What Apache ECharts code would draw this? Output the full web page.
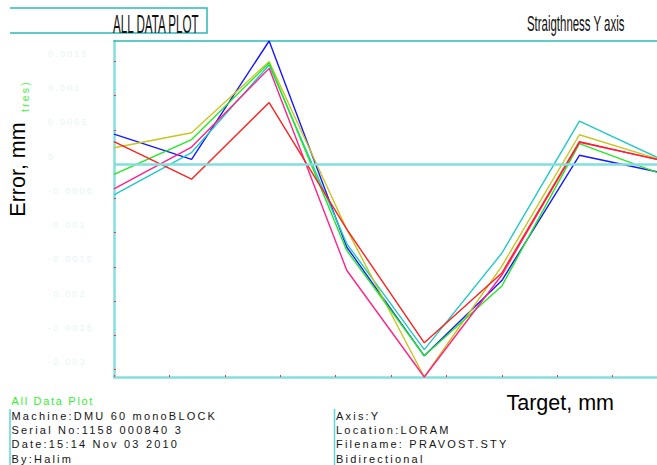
<!DOCTYPE html>
<html>
<head>
<meta charset="utf-8">
<script src="https://cdn.jsdelivr.net/npm/echarts@6/dist/echarts.min.js"></script>
<style>
  html, body { margin: 0; padding: 0; background: #ffffff; }
  #chart { width: 657px; height: 465px; }
  /* tracked lettering for the report block and the pale axis labels */
  #chart text[style*="Arimo"], #chart text[font-family*="Arimo"] { letter-spacing: 2.2px; }
  #chart text[style*="Tinos"], #chart text[font-family*="Tinos"] { letter-spacing: 1.7px; }
</style>
</head>
<body>
<div id="chart"></div>
<script>
// Target positions along the Y axis travel (mm)
const targets = [0, 70, 140, 210, 280, 350, 420, 490];

// Straightness error per run, in micrometres
const errBlue   = [0.44, 0.07, 1.80, -1.21, -2.80, -1.70, 0.13, -0.11];
const errCyan   = [-0.45, 0.17, 1.45, -1.16, -2.71, -1.30, 0.63, 0.10];
const errYellow = [0.24, 0.46, 1.50, -0.95, -3.11, -1.49, 0.43, 0.08];
const errGreen  = [-0.15, 0.36, 1.48, -1.26, -2.80, -1.78, 0.30, -0.12];
const errPink   = [-0.36, 0.25, 1.40, -1.55, -3.11, -1.62, 0.32, 0.07];
const errRed    = [0.33, -0.22, 0.90, -0.95, -2.61, -1.59, 0.33, 0.07];

// Tick positions
const xTicks = [0, 50, 100, 150, 200, 250, 300, 350, 400, 450];
const yTicksMm = [-0.003, -0.0025, -0.002, -0.0015, -0.001, -0.0005, 0, 0.0005, 0.001, 0.0015];

// Report block
const reportLeft = ['Machine:DMU 60 monoBLOCK', 'Serial No:1158 000840 3', 'Date:15:14 Nov 03 2010', 'By:Halim'];
const reportRight = ['Axis:Y', 'Location:LORAM', 'Filename: PRAVOST.STY', 'Bidirectional'];

const runs = [
  { name: 'Run 1', values: errBlue,   color: '#1818ff' },
  { name: 'Run 2', values: errCyan,   color: '#22c8c8' },
  { name: 'Run 3', values: errYellow, color: '#c8c420' },
  { name: 'Run 4', values: errGreen,  color: '#22e822' },
  { name: 'Run 5', values: errPink,   color: '#ff2288' },
  { name: 'Run 6', values: errRed,    color: '#ff2020' }
];

const FRAME = '#85dede';
const TEAL = '#2cb9b9';
const TICK = '#e23a3a';
const BASE_FONT = '"Liberation Sans", Arial, sans-serif';
const TRACKED_FONT = '"Liberation Sans", Arimo, sans-serif';
const TRACKED_FONT_TIGHT = '"Liberation Sans", Tinos, sans-serif';

const chart = echarts.init(document.getElementById('chart'), null, { renderer: 'svg' });

const series = runs.map(r => ({
  type: 'line',
  name: r.name,
  data: targets.map((t, i) => [t, r.values[i] / 1000]),
  symbol: 'none',
  showSymbol: false,
  clip: false,
  z: 3,
  lineStyle: { color: r.color, width: 1.4 },
  itemStyle: { color: r.color },
  emphasis: { disabled: true },
  animation: false
}));

// zero reference line, kept underneath the runs
series.unshift({
  type: 'line',
  name: 'zero',
  data: [],
  z: 1,
  silent: true,
  animation: false,
  markLine: {
    silent: true,
    symbol: ['none', 'none'],
    label: { show: false },
    animation: false,
    lineStyle: { color: FRAME, width: 2.5, type: 'solid' },
    data: [{ yAxis: 0 }]
  }
});

function textEl(text, x, y, font, fill, extra) {
  return Object.assign({
    type: 'text', x: x, y: y, silent: true,
    style: { text: text, font: font, fill: fill, textAlign: 'left', textVerticalAlign: 'middle' }
  }, extra || {});
}

const graphics = [
  // title box
  { type: 'polyline', silent: true, shape: { points: [[10, 8], [207, 8], [207, 33], [10, 33]] },
    style: { stroke: TEAL, lineWidth: 1.5, fill: null } },
  textEl('ALL DATA PLOT', 113, 24.5, '25px ' + BASE_FONT, '#111111', { scaleX: 0.465 }),
  textEl('Straigthness Y axis', 527, 23, '22px ' + BASE_FONT, '#111111', { scaleX: 0.52 }),
  // axis titles
  { type: 'text', x: 17.7, y: 169.5, rotation: Math.PI / 2, silent: true,
    style: { text: 'Error, mm', font: '21.5px ' + BASE_FONT, fill: '#000000', textAlign: 'center', textVerticalAlign: 'middle' } },
  { type: 'text', x: 24.5, y: 96, rotation: Math.PI / 2, silent: true,
    style: { text: 'tres)', font: '10.5px ' + TRACKED_FONT, fill: '#44ee44', textAlign: 'center', textVerticalAlign: 'middle' } },
  textEl('Target, mm', 506.5, 403, '21.5px ' + BASE_FONT, '#000000'),
  // report block
  textEl('All Data Plot', 11.5, 401.2, '11px ' + TRACKED_FONT_TIGHT, '#33ee33'),
  { type: 'line', silent: true, shape: { x1: 10, y1: 409, x2: 10, y2: 465 }, style: { stroke: '#5cd6d6', lineWidth: 1.5 } },
  { type: 'line', silent: true, shape: { x1: 334.5, y1: 409, x2: 334.5, y2: 465 }, style: { stroke: '#5cd6d6', lineWidth: 1.5 } }
];
const baselines = [419.5, 434, 448, 462.7];
reportLeft.forEach((t, i) => graphics.push(textEl(t, 11.5, baselines[i] - 3.8, '11px ' + TRACKED_FONT, '#151515')));
reportRight.forEach((t, i) => graphics.push(textEl(t, 336, baselines[i] - 3.8, '11px ' + TRACKED_FONT, '#151515')));

chart.setOption({
  animation: false,
  backgroundColor: '#ffffff',
  grid: { left: 114, top: 41, right: 0, bottom: 88, containLabel: false },
  xAxis: [
    {
      type: 'value', min: 0, max: 490, position: 'bottom',
      axisLine: { show: true, onZero: false, lineStyle: { color: FRAME, width: 2.5 } },
      axisTick: { show: true, inside: true, length: 2, customValues: xTicks, lineStyle: { color: TICK, width: 1 } },
      axisLabel: { show: false },
      splitLine: { show: false }
    },
    {
      type: 'value', min: 0, max: 490, position: 'top',
      axisLine: { show: true, onZero: false, lineStyle: { color: TEAL, width: 1.5 } },
      axisTick: { show: false },
      axisLabel: { show: false },
      splitLine: { show: false }
    }
  ],
  yAxis: {
    type: 'value', min: 'dataMin', max: 'dataMax',
    axisLine: { show: true, onZero: false, lineStyle: { color: FRAME, width: 2.5 } },
    axisTick: { show: true, inside: true, length: 2, customValues: yTicksMm, lineStyle: { color: TICK, width: 1 } },
    axisLabel: {
      show: true, customValues: yTicksMm,
      formatter: v => String(Number(v.toFixed(4))),
      color: '#e6f5f5', fontSize: 9, fontFamily: TRACKED_FONT,
      align: 'left', margin: 66, verticalAlign: 'bottom', padding: [0, 0, 3, 0]
    },
    splitLine: { show: false }
  },
  series: series,
  graphic: { elements: graphics }
});
</script>
</body>
</html>
